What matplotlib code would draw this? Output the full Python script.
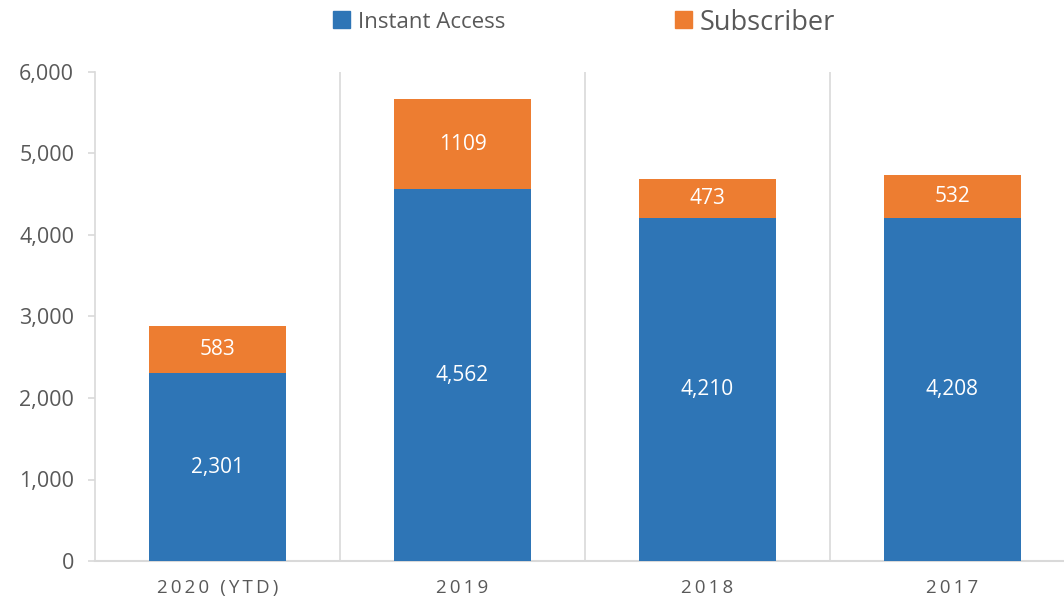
import matplotlib
matplotlib.use("Agg")
import matplotlib.pyplot as plt
from matplotlib.patches import Rectangle

categories = ["2020 (YTD)", "2019", "2018", "2017"]
instant_access = [2301, 4562, 4210, 4208]
subscriber = [583, 1109, 473, 532]
instant_labels = ["2,301", "4,562", "4,210", "4,208"]
subscriber_labels = ["583", "1109", "473", "532"]
series_names = ["Instant Access", "Subscriber"]
yticks = [0, 1000, 2000, 3000, 4000, 5000, 6000]

plt.rcParams['font.family'] = ['Open Sans', 'DejaVu Sans']
gray = '#595959'
blue = '#2E75B6'
orange = '#ED7D31'
W, H = 1064, 601

fig = plt.figure(figsize=(W / 100, H / 100), dpi=100)
ax = fig.add_axes([95 / W, 40 / H, 980 / W, 489 / H])

x = list(range(len(categories)))
ax.bar(x, instant_access, width=0.56, color=blue, zorder=3)
ax.bar(x, subscriber, width=0.56, bottom=instant_access, color=orange, zorder=3)

for i in x:
    ax.text(i, instant_access[i] / 2, instant_labels[i], ha='center', va='center',
            color='white', fontsize=15, zorder=4)
    ax.text(i, instant_access[i] + subscriber[i] / 2, subscriber_labels[i], ha='center',
            va='center', color='white', fontsize=15, zorder=4)

ax.set_xlim(-0.5, len(categories) - 0.5)
ax.set_ylim(0, 6000)
ax.set_yticks(yticks)
ax.set_yticklabels([f"{v:,}" for v in yticks], color=gray, fontsize=15.5)
ax.tick_params(axis='y', length=5, color='#D9D9D9', width=1.2, pad=10)

for b in [0.5, 1.5, 2.5]:
    ax.axvline(b, color='#D9D9D9', lw=1.2, zorder=1)

spaced = ["\u2009".join(list(c)) for c in categories]
ax.set_xticks(x)
ax.set_xticklabels(spaced, color=gray, fontsize=13.5)
ax.tick_params(axis='x', length=0, pad=13)

for s in ['top', 'right']:
    ax.spines[s].set_visible(False)
ax.spines['left'].set_color('#D9D9D9')
ax.spines['left'].set_linewidth(1.2)
ax.spines['bottom'].set_color('#D9D9D9')
ax.spines['bottom'].set_linewidth(1.5)

# legend (top, centered) with two differently sized entries
legend_items = [(series_names[0], blue, 333, 16), (series_names[1], orange, 675, 19.5)]
for name, col, px, fs in legend_items:
    fig.add_artist(Rectangle((px / W, 1 - 28 / H), 17 / W, 17 / H,
                             transform=fig.transFigure, color=col))
    fig.text((px + 25) / W, 1 - 20 / H, name, ha='left', va='center_baseline',
             color=gray, fontsize=fs)

fig.savefig("out.png", dpi=100)
